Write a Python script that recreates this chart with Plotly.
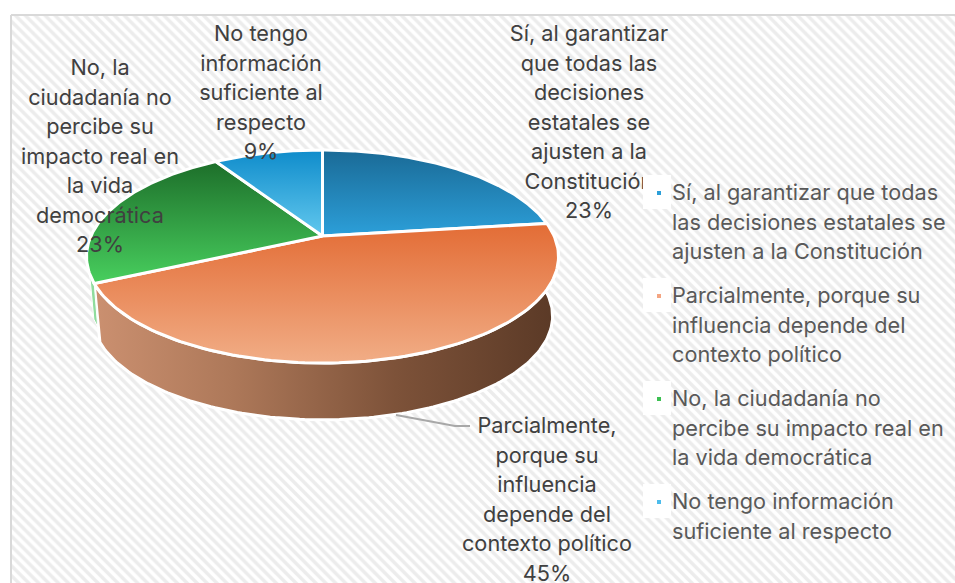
import numpy as np
import plotly.graph_objects as go

categories = [
    "Sí, al garantizar que todas las decisiones estatales se ajusten a la Constitución",
    "Parcialmente, porque su influencia depende del contexto político",
    "No, la ciudadanía no percibe su impacto real en la vida democrática",
    "No tengo información suficiente al respecto",
]
shares = [23, 45, 23, 9]
top_gradients = [
    ["#2c9fd9", "#1a6a96"],
    ["#f1ad86", "#e36c35"],
    ["#48cf5e", "#1d6e2a"],
    ["#62c8ee", "#0f8ccb"],
]
label_lines = [
    ["Sí, al garantizar", "que todas las", "decisiones", "estatales se", "ajusten a la", "Constitución", "23%"],
    ["Parcialmente,", "porque su", "influencia", "depende del", "contexto político", "45%"],
    ["No, la", "ciudadanía no", "percibe su", "impacto real en", "la vida", "democrática", "23%"],
    ["No tengo", "información", "suficiente al", "respecto", "9%"],
]
legend_lines = [
    ["Sí, al garantizar que todas", "las decisiones estatales se", "ajusten a la Constitución"],
    ["Parcialmente, porque su", "influencia depende del", "contexto político"],
    ["No, la ciudadanía no", "percibe su impacto real en", "la vida democrática"],
    ["No tengo información", "suficiente al respecto"],
]
legend_swatches = ["#2c9fd9", "#f4a582", "#3cc052", "#4dbcec"]

W, H = 955, 583
CX, CY = 322.5, 236
A, B, K = 231.6, 102.55, 0.1925
DEPTH, BOTTOM_SCALE = 60, 0.975
FONT = "Inter"
LABEL_C, LEGEND_C = "#404040", "#595959"
LINE = 29.5


def rim(deg, scale=1.0, dy=0.0):
    t = np.radians(deg)
    u, v = np.sin(t), -np.cos(t)
    s = scale / (1 - K * v)
    return CX + A * u * s, CY + B * v * s + dy


edges = np.cumsum([0] + shares) * 3.6
fig = go.Figure()

# page pattern panel
fig.add_trace(go.Scatter(
    x=[11, W + 5, W + 5, 11, 11], y=[15, 15, H + 5, H + 5, 15], mode="lines",
    fill="toself", line=dict(color="#d9d9d9", width=2),
    fillpattern=dict(shape="\\", size=7, solidity=0.5, fgcolor="#dadada", bgcolor="#ffffff"),
    hoverinfo="skip", showlegend=False))

# side walls (orange, and the narrow green sliver on the left)
a0, a1 = edges[1], edges[2]
deg = np.linspace(a0, a1, 160)
xt, yt = rim(deg)
xb, yb = rim(deg, BOTTOM_SCALE, DEPTH)
fig.add_trace(go.Scatter(
    x=np.r_[xt, xb[::-1], xt[0]], y=np.r_[yt, yb[::-1], yt[0]], mode="lines",
    fill="toself", line=dict(color="#ffffff", width=3),
    fillgradient=dict(type="horizontal", colorscale=[
        [0, "#cb9070"], [0.3, "#ad7859"], [0.65, "#7d5239"], [1, "#5a3926"]]),
    hoverinfo="skip", showlegend=False))
deg = np.linspace(a1, a1 + 5, 12)
xt, yt = rim(deg)
xb, yb = rim(deg, BOTTOM_SCALE + 0.01, DEPTH - 16)
fig.add_trace(go.Scatter(
    x=np.r_[xt, xb[::-1], xt[0]], y=np.r_[yt, yb[::-1], yt[0]], mode="lines",
    fill="toself", line=dict(color="#ffffff", width=1), fillcolor="#8fdc9d",
    hoverinfo="skip", showlegend=False))

# top faces
for i, name in enumerate(categories):
    deg = np.linspace(edges[i], edges[i + 1], 120)
    x, y = rim(deg)
    fig.add_trace(go.Scatter(
        x=np.r_[CX, x, CX], y=np.r_[CY, y, CY], mode="lines", name=name,
        fill="toself", line=dict(color="#ffffff", width=3),
        fillgradient=dict(type="vertical", colorscale=[[0, top_gradients[i][0]], [1, top_gradients[i][1]]]),
        hoverinfo="skip", showlegend=False))

# data labels, one text point per line
label_anchor = [(589, 36), (547, 428), (100, 70), (261, 36)]
lx, ly, lt = [], [], []
for lines, (ax, ay) in zip(label_lines, label_anchor):
    for j, s in enumerate(lines):
        lx.append(ax); ly.append(ay + j * LINE); lt.append(s)
fig.add_trace(go.Scatter(
    x=lx, y=ly, text=lt, mode="text", textposition="middle center",
    textfont=dict(family=FONT, size=21.7, color=LABEL_C), hoverinfo="skip",
    showlegend=False, cliponaxis=False))

# legend text
leg_y = [195, 298, 401, 504]
gx, gy, gt = [], [], []
for lines, y0 in zip(legend_lines, leg_y):
    for j, s in enumerate(lines):
        gx.append(672); gy.append(y0 + j * LINE); gt.append(s)
fig.add_trace(go.Scatter(
    x=gx, y=gy, text=gt, mode="text", textposition="middle right",
    textfont=dict(family=FONT, size=21.7, color=LEGEND_C), hoverinfo="skip",
    showlegend=False, cliponaxis=False))

shapes = [dict(type="path", path="M 396 415 L 455 426 L 470 426",
               line=dict(color="#a8a8a8", width=2), layer="above")]
for y0, c in zip(leg_y, legend_swatches):
    shapes.append(dict(type="rect", x0=643, x1=671, y0=y0 - 20, y1=y0 + 14,
                       fillcolor="#ffffff", line=dict(width=0), layer="above"))
    shapes.append(dict(type="rect", x0=657, x1=661, y0=y0 - 4, y1=y0,
                       fillcolor=c, line=dict(width=0), layer="above"))

fig.update_layout(
    width=W, height=H, margin=dict(l=0, r=0, t=0, b=0), autosize=False,
    paper_bgcolor="#ffffff", plot_bgcolor="#ffffff", showlegend=False, shapes=shapes,
    xaxis=dict(range=[0, W], visible=False, fixedrange=True),
    yaxis=dict(range=[H, 0], visible=False, fixedrange=True),
)
fig.write_html("out.html", config=dict(displayModeBar=False),
               post_script="document.body.style.margin='0';document.body.style.overflow='hidden';")
